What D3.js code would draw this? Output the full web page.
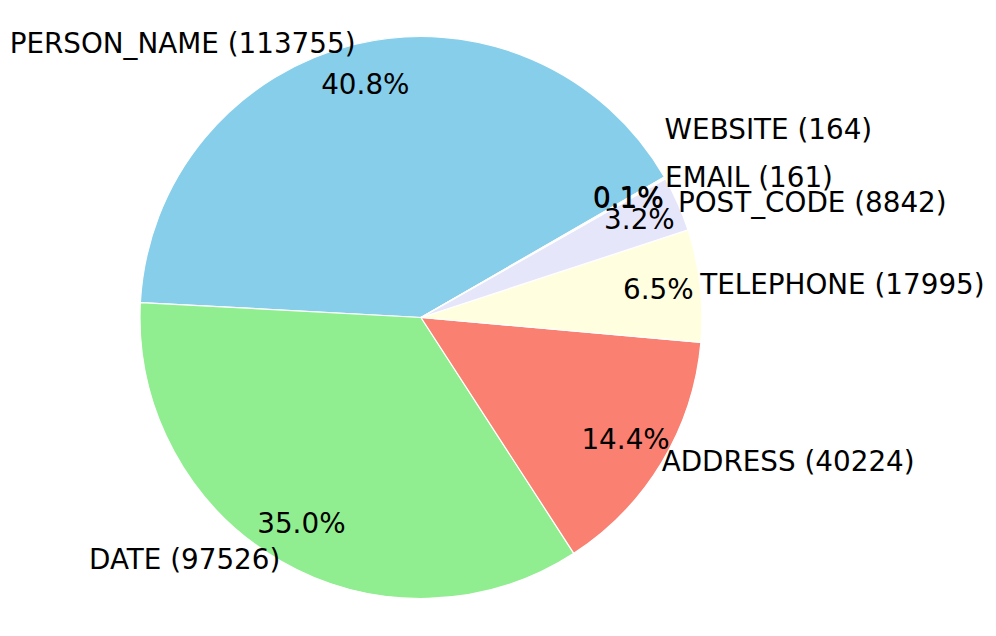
<!DOCTYPE html>
<html>
<head>
<meta charset="utf-8">
<script src="https://cdn.jsdelivr.net/npm/d3@7"></script>
<style>
  body { margin: 0; background: #fff; }
  svg text { font-family: "DejaVu Sans", sans-serif; font-size: 27.8px; fill: #000; }
</style>
</head>
<body>
<script>
// entity counts, in pie order (counterclockwise from 30deg)
const categories = ['PERSON_NAME', 'DATE', 'ADDRESS', 'TELEPHONE', 'POST_CODE', 'EMAIL', 'WEBSITE'];
const counts = [113755, 97526, 40224, 17995, 8842, 161, 164];
const colors = ['#87CEEB', '#90EE90', '#FA8072', '#FFFFE0', '#E6E6FA', '#FFB6C1', '#D3D3D3'];

const width = 996, height = 636;
const cx = 421, cy = 317.5, radius = 281;
const startDeg = 30;

const data = categories.map((c, i) => ({ name: c, value: counts[i], color: colors[i] }));
const total = d3.sum(counts);

// d3 angles are clockwise from 12 o'clock, matplotlib goes ccw from 3 o'clock
const a0 = (90 - startDeg) * Math.PI / 180;
const pie = d3.pie()
    .sort(null)
    .value(d => d.value)
    .startAngle(a0)
    .endAngle(a0 - 2 * Math.PI);

const arcs = pie(data);
const arc = d3.arc().innerRadius(0).outerRadius(radius);

const svg = d3.select("body").append("svg")
    .attr("width", width)
    .attr("height", height);

const g = svg.append("g").attr("transform", `translate(${cx},${cy})`);

g.selectAll("path")
    .data(arcs)
    .join("path")
    .attr("d", arc)
    .attr("fill", d => d.data.color)
    .attr("stroke", "#fff")
    .attr("stroke-width", 1.2);

const pos = (d, k) => {
    const a = (d.startAngle + d.endAngle) / 2;
    return [k * radius * Math.sin(a), -k * radius * Math.cos(a)];
};

// the WEBSITE label sits higher than its wedge to clear EMAIL
const labelShift = name => name === 'WEBSITE' ? -47 : 0;

g.selectAll("text.label")
    .data(arcs)
    .join("text")
    .attr("class", "label")
    .attr("x", d => pos(d, 1.0)[0])
    .attr("y", d => pos(d, 1.0)[1] + labelShift(d.data.name))
    .attr("dy", "0.31em")
    .attr("text-anchor", d => pos(d, 1.0)[0] > 0 ? "start" : "end")
    .text(d => `${d.data.name} (${d.data.value})`);

g.selectAll("text.pct")
    .data(arcs)
    .join("text")
    .attr("class", "pct")
    .attr("x", d => pos(d, 0.85)[0])
    .attr("y", d => pos(d, 0.85)[1])
    .attr("dy", "0.31em")
    .attr("text-anchor", "middle")
    .text(d => (d.value / total * 100).toFixed(1) + "%");
</script>
</body>
</html>
